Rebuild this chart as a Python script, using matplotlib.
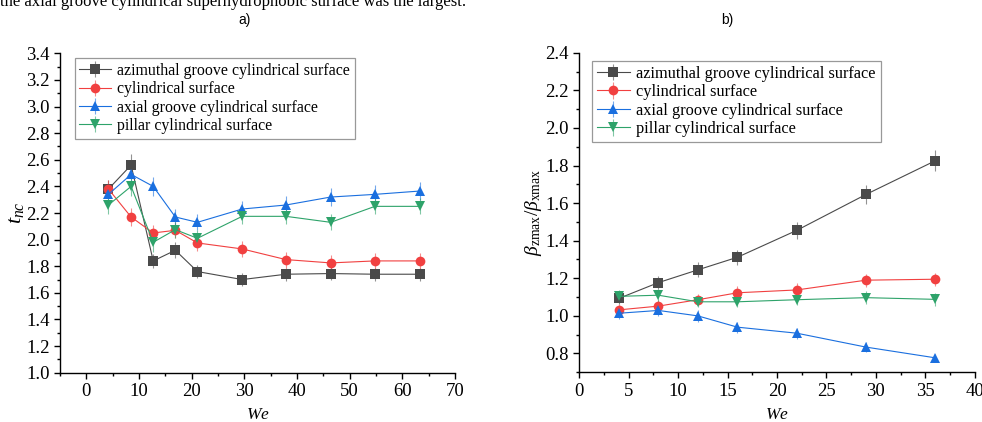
import matplotlib
matplotlib.use("Agg")
import matplotlib.pyplot as plt
from matplotlib.ticker import MultipleLocator, FormatStrFormatter
from matplotlib.colors import to_rgba

plt.rcParams['font.family'] = ['Liberation Serif', 'DejaVu Serif']
plt.rcParams['mathtext.fontset'] = 'custom'
plt.rcParams['mathtext.rm'] = 'Liberation Serif'
plt.rcParams['mathtext.it'] = 'Liberation Serif:italic'

labels = ["azimuthal groove cylindrical surface", "cylindrical surface",
          "axial groove cylindrical surface", "pillar cylindrical surface"]
colors = ["#4a4a4a", "#f14040", "#1a6fdf", "#2ea36a"]
markers = ["s", "o", "^", "v"]

# Panel a
we_a = [4.2, 8.5, 12.7, 16.9, 21.1, 29.6, 37.9, 46.4, 54.8, 63.3]
tnc_az = [2.38, 2.56, 1.84, 1.92, 1.76, 1.70, 1.74, 1.745, 1.74, 1.74]
tnc_cyl = [2.38, 2.17, 2.05, 2.07, 1.975, 1.93, 1.85, 1.825, 1.84, 1.84]
tnc_ax = [2.34, 2.49, 2.40, 2.17, 2.13, 2.23, 2.26, 2.32, 2.34, 2.365]
tnc_pil = [2.26, 2.40, 1.98, 2.075, 2.01, 2.175, 2.175, 2.13, 2.25, 2.25]
err_az = [0.07, 0.08, 0.05, 0.06, 0.05, 0.05, 0.05, 0.05, 0.05, 0.05]
err_cyl = [0.07, 0.07, 0.06, 0.06, 0.06, 0.06, 0.06, 0.06, 0.06, 0.06]
err_ax = [0.07, 0.07, 0.07, 0.06, 0.06, 0.06, 0.07, 0.07, 0.07, 0.07]
err_pil = [0.07, 0.07, 0.07, 0.06, 0.06, 0.06, 0.06, 0.06, 0.06, 0.06]

# Panel b
we_b = [4, 8, 12, 16, 22, 29, 36]
b_az = [1.093, 1.177, 1.245, 1.312, 1.455, 1.646, 1.825]
b_cyl = [1.032, 1.052, 1.086, 1.123, 1.138, 1.19, 1.195]
b_ax = [1.014, 1.029, 1.0, 0.94, 0.908, 0.834, 0.777]
b_pil = [1.104, 1.11, 1.075, 1.075, 1.086, 1.097, 1.088]
eb_az = [0.03, 0.035, 0.04, 0.04, 0.045, 0.05, 0.055]
eb_cyl = [0.03, 0.03, 0.03, 0.035, 0.035, 0.035, 0.035]
eb_ax = [0.03, 0.03, 0.03, 0.03, 0.03, 0.025, 0.02]
eb_pil = [0.035, 0.035, 0.03, 0.03, 0.03, 0.035, 0.035]

fig = plt.figure(figsize=(9.82, 4.22), dpi=100)
axA = fig.add_axes([0.0611, 0.1168, 0.4022, 0.7569])
axB = fig.add_axes([0.5899, 0.1178, 0.4027, 0.7573])

def draw(ax, x, ys, errs, legsize):
    for y, e, c, m, lab in zip(ys, errs, colors, markers, labels):
        ec = to_rgba(c, 0.6)
        ax.errorbar(x, y, yerr=e, color=c, marker=m, markersize=6.5 if m != 'o' else 7,
                    linewidth=0.8, elinewidth=0.8, capsize=2.5, capthick=0.8,
                    ecolor=ec, label=lab, markeredgewidth=0)
    for s in ['top', 'right']:
        ax.spines[s].set_visible(False)
    for s in ['left', 'bottom']:
        ax.spines[s].set_linewidth(1.0)
    ax.tick_params(which='major', direction='out', length=4.5, width=1, labelsize=13.5, pad=3)
    ax.tick_params(which='minor', direction='out', length=2.5, width=1)
    leg = ax.legend(loc='upper left', fontsize=legsize, frameon=True, fancybox=False,
                    edgecolor='#808080', handlelength=2.0, handletextpad=0.4,
                    borderpad=0.3, labelspacing=0.15, borderaxespad=0.3)
    leg.get_frame().set_linewidth(0.9)
    for lh in leg.legend_handles:
        try:
            lh.set_markersize(5.5)
        except Exception:
            pass

draw(axA, we_a, [tnc_az, tnc_cyl, tnc_ax, tnc_pil], [err_az, err_cyl, err_ax, err_pil], 11.4)
axA.set_xlim(-5, 70)
axA.set_ylim(1.0, 3.4)
axA.xaxis.set_major_locator(MultipleLocator(10))
axA.xaxis.set_minor_locator(MultipleLocator(5))
axA.yaxis.set_major_locator(MultipleLocator(0.2))
axA.yaxis.set_minor_locator(MultipleLocator(0.1))
axA.yaxis.set_major_formatter(FormatStrFormatter('%.1f'))
axA.set_xlabel('$We$', fontsize=12.5, labelpad=5)
axA.set_ylabel('$t_{nc}$', fontsize=16, labelpad=0)
axA.legend_.set_bbox_to_anchor((0.025, 1.0))

draw(axB, we_b, [b_az, b_cyl, b_ax, b_pil], [eb_az, eb_cyl, eb_ax, eb_pil], 11.8)
axB.set_xlim(0, 40)
axB.set_ylim(0.7, 2.4)
axB.xaxis.set_major_locator(MultipleLocator(5))
axB.xaxis.set_minor_locator(MultipleLocator(2.5))
axB.yaxis.set_minor_locator(MultipleLocator(0.1))
axB.set_yticks([0.8, 1.0, 1.2, 1.4, 1.6, 1.8, 2.0, 2.2, 2.4])
axB.yaxis.set_major_formatter(FormatStrFormatter('%.1f'))
axB.set_xlabel('$We$', fontsize=12.5, labelpad=5)
axB.set_ylabel(r'$\beta_{\mathrm{zmax}}/\beta_{\mathrm{xmax}}$', fontsize=14, labelpad=1)
axB.legend_.set_bbox_to_anchor((0.02, 0.99))

fig.text(245 / 982, 1 - 20 / 422, 'a)', ha='center', va='center', fontsize=10,
         family=['Liberation Sans Narrow', 'Liberation Sans', 'DejaVu Sans'])
fig.text(727 / 982, 1 - 20 / 422, 'b)', ha='center', va='center', fontsize=10,
         family=['Liberation Sans Narrow', 'Liberation Sans', 'DejaVu Sans'])
fig.text(0.0, 1 - 6 / 422, 'the axial groove cylindrical superhydrophobic surface was the largest.',
         ha='left', va='baseline', fontsize=12)

fig.savefig('out.png', dpi=100)
